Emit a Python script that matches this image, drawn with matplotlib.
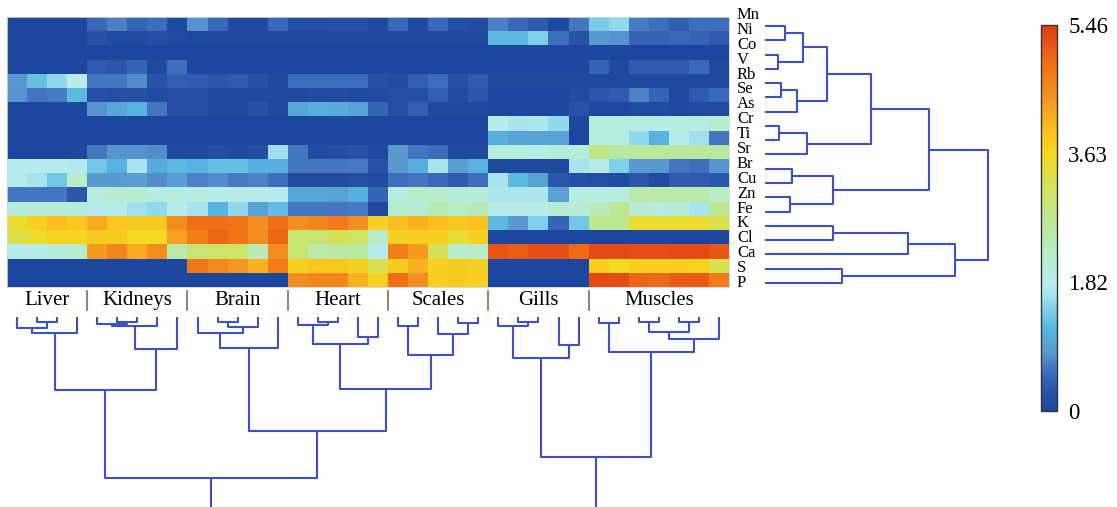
import numpy as np
import matplotlib
matplotlib.use('Agg')
import matplotlib.pyplot as plt
from matplotlib.colors import LinearSegmentedColormap
from matplotlib import transforms

plt.rcParams['font.family'] = 'Liberation Serif'

elements = ['Mn', 'Ni', 'Co', 'V', 'Rb', 'Se', 'As', 'Cr', 'Ti', 'Sr',
            'Br', 'Cu', 'Zn', 'Fe', 'K', 'Cl', 'Ca', 'S', 'P']
tissues = ['Liver', 'Kidneys', 'Brain', 'Heart', 'Scales', 'Gills', 'Muscles']

# log-concentration per element (rows) and sample (columns) for each tissue
liver = [
    [0, 0, 0, 0], [0, 0, 0, 0], [0, 0, 0, 0], [0, 0, 0, 0],
    [0.85, 1.3, 1.55, 1.85], [0.8, 0.6, 0.65, 1.2], [0, 0, 0, 0],
    [0, 0, 0, 0], [0, 0, 0, 0], [0, 0, 0, 0],
    [1.8, 1.8, 1.8, 1.75], [1.8, 1.65, 1.35, 2.3], [0.6, 0.6, 0.6, 0.3],
    [2.0, 2.0, 2.0, 2.0], [3.5, 3.75, 4.0, 3.85], [3.3, 3.5, 3.7, 3.7],
    [1.85, 1.85, 2.0, 2.2], [0, 0, 0, 0], [0, 0, 0, 0]]
kidneys = [
    [0.5, 0.7, 0.45, 0.55, 0.05], [0.2, 0.1, 0.1, 0.15, 0.1], [0, 0, 0, 0, 0],
    [0.35, 0.3, 0.45, 0.05, 0.55], [0.6, 0.6, 0.75, 0.25, 0.4],
    [0.2, 0.15, 0.2, 0.1, 0.15], [0.8, 1.0, 1.15, 0.6, 0.15],
    [0, 0, 0, 0, 0], [0, 0, 0, 0, 0], [0.6, 0.8, 0.8, 0.75, 0.05],
    [1.35, 1.15, 1.65, 1.05, 1.2], [0.85, 0.85, 0.9, 0.75, 0.9],
    [1.95, 2.05, 2.05, 1.9, 1.9], [1.8, 1.8, 1.6, 1.55, 1.8],
    [4.2, 3.85, 3.8, 3.8, 4.5], [3.8, 3.8, 3.6, 3.6, 4.3],
    [4.35, 4.6, 4.2, 4.5, 2.5], [0, 0, 0, 0, 0], [0, 0, 0, 0, 0]]
brain = [
    [0.8, 0.5, 0.05, 0.05, 0.5], [0.05, 0.05, 0.05, 0.05, 0.05], [0, 0, 0, 0, 0],
    [0, 0, 0, 0, 0], [0.35, 0.3, 0.35, 0.2, 0.05], [0.15, 0.05, 0.05, 0.05, 0.05],
    [0.15, 0.05, 0.05, 0.2, 0.05], [0, 0, 0, 0, 0], [0, 0, 0, 0, 0],
    [0.05, 0.15, 0.05, 0.15, 1.6], [1.15, 1.3, 1.3, 1.1, 1.1],
    [0.7, 0.75, 0.65, 0.7, 0.55], [1.9, 1.85, 1.85, 1.8, 1.8],
    [1.65, 1.15, 1.55, 0.95, 1.25], [4.9, 4.9, 4.85, 4.5, 4.9],
    [4.7, 5.0, 4.85, 4.5, 5.0], [2.95, 3.1, 3.05, 2.4, 4.5],
    [4.8, 4.55, 4.4, 4.1, 4.7], [0, 0, 0, 0, 0]]
heart = [
    [0.15, 0.15, 0.2, 0.2, 0.05], [0.05, 0.05, 0.05, 0.05, 0.05], [0, 0, 0, 0, 0],
    [0, 0, 0, 0, 0], [0.55, 0.55, 0.55, 0.55, 0.2], [0.05, 0.1, 0.1, 0.05, 0.1],
    [1.0, 1.1, 1.05, 0.95, 0.45], [0, 0, 0, 0, 0], [0, 0, 0, 0, 0],
    [0.6, 0.1, 0.15, 0.25, 0.05], [0.6, 0.6, 0.6, 0.65, 0.25],
    [0.1, 0.1, 0.1, 0.15, 0.1], [1.0, 1.0, 0.95, 1.1, 0.45],
    [0.6, 0.6, 0.6, 0.65, 0.05], [4.5, 4.6, 4.75, 4.5, 3.75],
    [3.0, 3.0, 3.2, 3.1, 2.2], [3.0, 2.5, 2.6, 2.6, 1.8],
    [3.75, 3.9, 3.9, 3.75, 3.25], [4.5, 4.6, 4.6, 4.1, 3.75]]
scales = [
    [0.5, 0.05, 0.5, 0.15, 0.1], [0.05, 0.05, 0.05, 0.05, 0.05], [0, 0, 0, 0, 0],
    [0, 0, 0, 0, 0], [0.1, 0.4, 0.55, 0.2, 0.35], [0.15, 0.15, 0.4, 0.1, 0.3],
    [0.15, 0.4, 0.05, 0.05, 0.05], [0, 0, 0, 0, 0], [0, 0, 0, 0, 0],
    [0.85, 0.6, 0.55, 0.05, 0.05], [0.85, 1.1, 1.65, 0.9, 1.15],
    [0.55, 0.6, 0.5, 0.35, 0.55], [1.9, 2.3, 2.15, 2.0, 2.0],
    [2.15, 2.1, 2.45, 2.3, 2.35], [4.0, 4.1, 4.0, 3.85, 3.95],
    [3.75, 3.75, 3.75, 3.45, 3.75], [4.7, 4.35, 3.2, 2.2, 2.2],
    [3.8, 4.1, 3.75, 3.8, 3.75], [4.9, 4.5, 3.75, 3.8, 3.75]]
gills = [
    [0.7, 0.5, 0.35, 0.05, 0.6], [1.2, 1.2, 1.45, 0.55, 0.25], [0, 0, 0, 0, 0],
    [0, 0, 0, 0, 0], [0.05, 0.05, 0.05, 0.05, 0.05], [0, 0, 0, 0, 0.1],
    [0, 0, 0, 0, 0.25], [1.8, 1.65, 1.7, 1.55, 0], [1.1, 0.95, 0.95, 0.95, 0],
    [1.95, 1.95, 1.85, 2.0, 2.0], [0.05, 0.05, 0.05, 0.05, 1.65],
    [1.65, 1.2, 0.95, 0.3, 0.2], [1.7, 1.7, 1.7, 0.95, 1.9],
    [1.85, 1.85, 1.85, 2.05, 2.05], [1.2, 0.85, 1.45, 0.45, 1.35],
    [0, 0, 0, 0, 0], [5.2, 5.1, 5.25, 5.25, 4.95], [0, 0, 0, 0, 0], [0, 0, 0, 0, 0]]
muscles = [
    [1.4, 1.55, 0.65, 0.55, 0.4, 0.55, 0.55], [0.85, 0.8, 0.45, 0.45, 0.5, 0.45, 0.35],
    [0, 0, 0, 0, 0, 0, 0], [0.45, 0.05, 0.35, 0.35, 0.35, 0.5, 0.05],
    [0.05, 0.05, 0.05, 0.05, 0.05, 0.05, 0.05], [0.3, 0.35, 0.7, 0.45, 0.05, 0.35, 0.5],
    [0.05, 0.05, 0.1, 0.1, 0.05, 0.1, 0.1], [1.95, 1.95, 1.9, 1.9, 1.9, 1.9, 2.15],
    [1.95, 1.95, 1.55, 1.15, 1.85, 1.6, 0.6], [2.8, 2.6, 2.6, 2.6, 2.6, 2.6, 2.6],
    [1.85, 1.45, 0.85, 0.85, 0.6, 0.55, 0.8], [0.15, 0.1, 0.3, 0.1, 0.35, 0.35, 0.3],
    [1.9, 1.95, 2.5, 2.5, 2.5, 2.5, 2.3], [2.4, 2.7, 2.05, 1.9, 2.0, 1.65, 2.7],
    [2.7, 2.7, 3.5, 3.5, 3.5, 3.5, 3.3], [0, 0, 0, 0, 0, 0, 0],
    [5.3, 5.3, 5.25, 5.25, 5.3, 5.3, 5.15], [3.75, 3.6, 3.75, 3.75, 3.75, 3.7, 3.3],
    [5.3, 5.3, 5.0, 4.95, 5.1, 5.1, 4.75]]

vmax = 5.46
cbar_ticks = [0, 1.82, 3.63, 5.46]

# dendrograms as (left, right, merge height); ints are leaf indices
liver_tree = ((0, (1, 2, 5), 11.6), 3, 16)
kidney_tree = (((4, (5, 6, 5), 7.3), 7, 9.3), 8, 32.3)
brain_tree = ((9, ((10, 11, 5), 12, 10.6), 16), 13, 31.6)
heart_tree = ((14, (15, 16, 5), 8.3), (17, 18, 20), 27.3)
scale_tree = ((19, 20, 9.3), (21, (22, 23, 6), 17.3), 38.3)
gill_tree = ((24, (25, 26, 5), 9.3), (27, 28, 28.3), 41)
muscle_tree = ((29, 30, 6), (((31, 32, 5), (33, 34, 5), 15), 35, 22.6), 35)
col_tree = (((liver_tree, kidney_tree, 73.3),
             (brain_tree, (heart_tree, scale_tree, 72.3), 114.3), 161.3),
            (gill_tree, muscle_tree, 140.3), 215)

row_tree = (((((((0, 1, 20), (2, 3, 13.3), 38.3), ((4, 5, 16), 6, 31.7), 61.7),
               ((7, 8, 14.3), 9, 41.7), 106),
              ((10, 11, 26.7), (12, 13, 25), 68.3), 164.3),
             (((14, 15, 68.3), 16, 143.3), (17, 18, 76.7), 190), 222.7))

data = np.hstack([np.array(t, dtype=float) for t in
                  [liver, kidneys, brain, heart, scales, gills, muscles]])
group_sizes = [len(t[0]) for t in [liver, kidneys, brain, heart, scales, gills, muscles]]

cmap = LinearSegmentedColormap.from_list('conc', [
    (0.0, '#1d469e'), (0.05, '#2a54a8'), (0.09, '#3a68b8'), (0.12, '#4a7cc4'),
    (0.15, '#5a98d0'), (0.21, '#58b4e0'), (0.24, '#6cc4e6'), (0.28, '#90d8ec'),
    (0.30, '#a8e4ec'), (0.33, '#b8ecec'), (0.37, '#b8ecd8'), (0.42, '#b8ecc4'),
    (0.48, '#bce89c'), (0.55, '#c8e470'), (0.61, '#dce048'), (0.66, '#f5da22'),
    (0.73, '#fcc020'), (0.82, '#f39020'), (0.90, '#f07018'), (1.0, '#e03c12')])

line_kw = dict(color='#3d52c0', lw=1.5, solid_capstyle='butt')


def draw_tree(ax, node, vertical):
    if isinstance(node, int):
        return node, 0.0
    left, right, h = node
    p1, h1 = draw_tree(ax, left, vertical)
    p2, h2 = draw_tree(ax, right, vertical)
    pos = [p1, p1, p2, p2]
    hts = [h1, h, h, h2]
    if vertical:
        ax.plot(pos, hts, **line_kw)
    else:
        ax.plot(hts, pos, **line_kw)
    return (p1 + p2) / 2, h


W, H = 1117, 507
fig = plt.figure(figsize=(W / 100, H / 100), dpi=100)


def px_axes(x0, y0, x1, y1):
    return fig.add_axes([x0 / W, 1 - y1 / H, (x1 - x0) / W, (y1 - y0) / H])


# heatmap
ax_hm = px_axes(7, 16.7, 729, 286.7)
im = ax_hm.imshow(data, cmap=cmap, vmin=0, vmax=vmax, aspect='auto',
                  interpolation='nearest')
ax_hm.set_xticks([])
ax_hm.set_yticks([])
for s in ax_hm.spines.values():
    s.set_color('#d0d4e4')
    s.set_linewidth(0.6)

# tissue names and separators under the heatmap
edges = np.concatenate([[0], np.cumsum(group_sizes)]) - 0.5
tr = ax_hm.get_xaxis_transform()
for name, a, b in zip(tissues, edges[:-1], edges[1:]):
    ax_hm.text((a + b) / 2, -0.05, name, transform=tr, ha='center', va='center',
               fontsize=15)
for e in edges[1:-1]:
    ax_hm.plot([e, e], [-0.016, -0.087], transform=tr, color='#8a6a58', lw=1.2,
               clip_on=False)

# column dendrogram
ax_col = px_axes(7, 316.7, 729, 507)
draw_tree(ax_col, col_tree, True)
ax_col.set_xlim(-0.5, data.shape[1] - 0.5)
ax_col.set_ylim(190.3, 0)
ax_col.axis('off')

# row dendrogram with element labels
ax_row = px_axes(765, 18.9, 995, 290.1)
draw_tree(ax_row, row_tree, False)
ax_row.set_xlim(0, 230)
ax_row.set_ylim(18.5, -0.5)
ax_row.axis('off')
lab_tr = transforms.offset_copy(ax_row.get_yaxis_transform(), fig=fig,
                                x=-28, y=0, units='dots')
for y, el in zip(np.linspace(-0.77, 18.0, len(elements)), elements):
    ax_row.text(0, y, el, transform=lab_tr, ha='left', va='center', fontsize=12)

# colour bar
cax = px_axes(1041, 25, 1057, 411)
cb = fig.colorbar(im, cax=cax, ticks=cbar_ticks)
cb.ax.set_yticklabels(['0', '1.82', '3.63', '5.46'])
cb.ax.tick_params(length=0, labelsize=16.5, pad=8)
cb.outline.set_edgecolor('#333333')
cb.outline.set_linewidth(1.0)

fig.savefig('out.png', dpi=100)
